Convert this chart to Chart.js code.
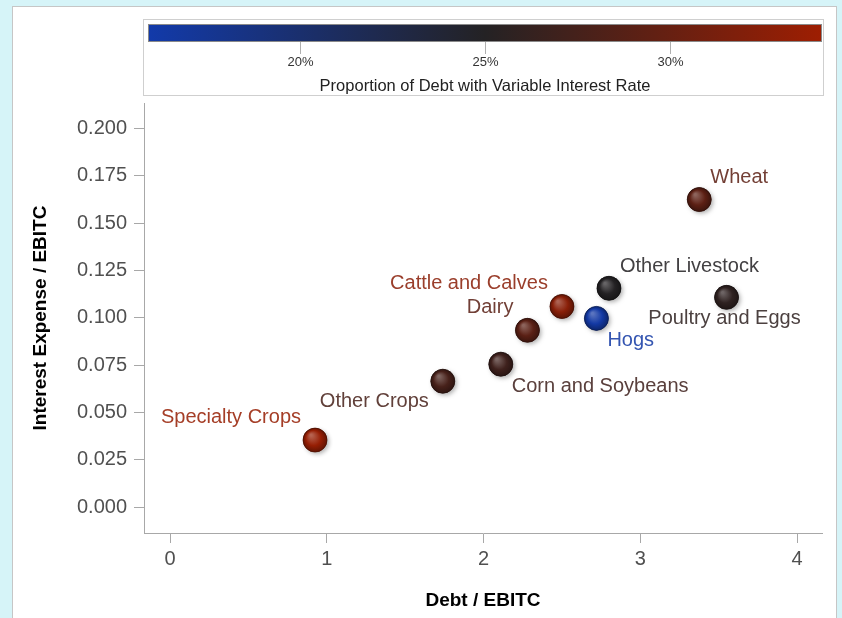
<!DOCTYPE html>
<html><head><meta charset="utf-8">
<script src="https://cdn.jsdelivr.net/npm/chart.js@4/dist/chart.umd.min.js"></script>
<style>
html,body{margin:0;padding:0;background:#d6f4f8;overflow:hidden;}
#wrap{position:relative;width:842px;height:618px;}
</style></head><body>
<div id="wrap"><canvas id="c" width="842" height="618"></canvas></div>
<script>
// ---- data ----
const categories = ["Specialty Crops","Other Crops","Corn and Soybeans","Dairy","Cattle and Calves","Hogs","Other Livestock","Poultry and Eggs","Wheat"];
const debtToEbitc = [0.925, 1.74, 2.11, 2.28, 2.50, 2.72, 2.80, 3.55, 3.376];
const interestToEbitc = [0.0354, 0.0665, 0.0755, 0.0934, 0.106, 0.0997, 0.1156, 0.1108, 0.1625];
const variableRateShare = [33.5, 27.6, 27.0, 29.0, 32.5, 16.3, 25.0, 25.8, 29.2];
const labelAnchors = ["NW","SW","SE","NW","NW","SE","NE","S","NE"];
const xTicks = [0,1,2,3,4];
const yTicks = [0,0.025,0.05,0.075,0.1,0.125,0.15,0.175,0.2];
const colorTicks = [20,25,30];
const colorRange = [15.9, 34.1];
const colorTitle = "Proportion of Debt with Variable Interest Rate";
const xTitle = "Debt / EBITC";
const yTitle = "Interest Expense / EBITC";

// ---- colour ramp ----
const rampStops = [[0,[18,58,170]],[0.5,[36,34,36]],[1,[158,30,2]]];
function rampRGB(v){
  let t=(v-colorRange[0])/(colorRange[1]-colorRange[0]);
  t=Math.max(0,Math.min(1,t));
  for(let i=0;i<rampStops.length-1;i++){
    const [t0,c0]=rampStops[i],[t1,c1]=rampStops[i+1];
    if(t<=t1){const f=(t-t0)/(t1-t0);return c0.map((c,k)=>Math.round(c+(c1[k]-c)*f));}
  }
  return rampStops[rampStops.length-1][1];
}
const css=(c,a)=>a===undefined?`rgb(${c[0]},${c[1]},${c[2]})`:`rgba(${c[0]},${c[1]},${c[2]},${a})`;
const mix=(c,d,f)=>c.map((v,k)=>Math.round(v+(d[k]-v)*f));

const FONT="'Liberation Sans', Arial, sans-serif";

const panelPlugin={id:'panel',beforeDraw(chart){
  const ctx=chart.ctx;ctx.save();
  ctx.fillStyle='#ffffff';ctx.fillRect(12.5,6.5,824,620);
  ctx.strokeStyle='#c6c6c6';ctx.lineWidth=1;ctx.strokeRect(12.5,6.5,824,620);
  ctx.restore();
}};

const colorbarPlugin={id:'colorbar',afterDraw(chart){
  const ctx=chart.ctx, a=chart.chartArea;
  const x0=a.left+4,x1=a.right,y0=24,y1=42;
  ctx.save();
  ctx.strokeStyle='#cfcfcf';ctx.lineWidth=1;ctx.strokeRect(143.5,19.5,680,76);
  const g=ctx.createLinearGradient(x0,0,x1,0);
  rampStops.forEach(([t,c])=>g.addColorStop(t,css(c)));
  ctx.fillStyle=g;ctx.fillRect(x0,y0,x1-x0,y1-y0);
  ctx.strokeStyle='#8a8a8a';ctx.strokeRect(x0+0.5,y0+0.5,x1-x0-1,y1-y0-1);
  const px=v=>x0+(v-colorRange[0])/(colorRange[1]-colorRange[0])*(x1-x0);
  ctx.strokeStyle='#b0b0b0';
  ctx.fillStyle='#333';ctx.font=`13px ${FONT}`;ctx.textAlign='center';ctx.textBaseline='middle';
  colorTicks.forEach(v=>{const x=Math.round(px(v))+0.5;
    ctx.beginPath();ctx.moveTo(x,y1);ctx.lineTo(x,y1+12);ctx.stroke();
    ctx.fillText(v+'%',x,62);});
  ctx.font=`16.5px ${FONT}`;ctx.fillStyle='#222';
  ctx.fillText(colorTitle,(x0+x1)/2,86);
  ctx.restore();
}};

const bubblePlugin={id:'bubbles',afterDatasetsDraw(chart){
  const ctx=chart.ctx, meta=chart.getDatasetMeta(0), R=12;
  ctx.save();
  meta.data.forEach((el,i)=>{
    const c=rampRGB(variableRateShare[i]);const x=el.x,y=el.y;
    ctx.save();
    ctx.shadowColor='rgba(0,0,0,0.3)';ctx.shadowBlur=4;ctx.shadowOffsetX=2;ctx.shadowOffsetY=2;
    ctx.beginPath();ctx.arc(x,y,R,0,Math.PI*2);ctx.fillStyle=css(mix(c,[0,0,0],0.3));ctx.fill();
    ctx.restore();
    const g=ctx.createRadialGradient(x-4,y-5,1,x,y,R);
    g.addColorStop(0,css(mix(c,[255,255,255],0.3)));
    g.addColorStop(0.6,css(c));
    g.addColorStop(1,css(mix(c,[0,0,0],0.35)));
    ctx.beginPath();ctx.arc(x,y,R,0,Math.PI*2);ctx.fillStyle=g;ctx.fill();
    ctx.lineWidth=1;ctx.strokeStyle=css(mix(c,[0,0,0],0.5),0.7);ctx.stroke();
  });
  ctx.font=`20px ${FONT}`;ctx.textBaseline='middle';
  meta.data.forEach((el,i)=>{
    const c=rampRGB(variableRateShare[i]);
    ctx.fillStyle=css(mix(c,[255,255,255],0.14));
    const a=labelAnchors[i];let dx=0,dy=0;
    if(a==='NE'){ctx.textAlign='left';dx=11;dy=-22;}
    else if(a==='SE'){ctx.textAlign='left';dx=11;dy=22;}
    else if(a==='NW'){ctx.textAlign='right';dx=-14;dy=-23;}
    else if(a==='SW'){ctx.textAlign='right';dx=-14;dy=20;}
    else {ctx.textAlign='center';dx=-2;dy=21;}
    ctx.fillText(categories[i],el.x+dx,el.y+dy);
  });
  ctx.restore();
}};

new Chart(document.getElementById('c'),{
  type:'scatter',
  data:{datasets:[{data:debtToEbitc.map((x,i)=>({x,y:interestToEbitc[i]})),
    pointRadius:12,backgroundColor:'rgba(0,0,0,0)',borderWidth:0,pointHoverRadius:12}]},
  options:{
    responsive:false,animation:false,devicePixelRatio:1,
    layout:{padding:{left:20,right:20,top:103,bottom:0}},
    plugins:{legend:{display:false},tooltip:{enabled:false}},
    scales:{
      x:{type:'linear',min:-0.166,max:4.159,
        afterBuildTicks:s=>{s.ticks=xTicks.map(v=>({value:v}));},
        afterFit:s=>{s.height=85;},
        grid:{drawOnChartArea:false,drawTicks:true,tickLength:10,tickColor:'#a8a8a8'},
        border:{color:'#a8a8a8'},
        ticks:{font:{family:FONT,size:20},color:'#505050',padding:4,callback:v=>String(v)},
        title:{display:true,text:xTitle,font:{family:FONT,size:19,weight:'bold'},color:'#000',padding:{top:0,bottom:6}}},
      y:{type:'linear',min:-0.0137,max:0.2135,
        afterBuildTicks:s=>{s.ticks=yTicks.map(v=>({value:v}));},
        afterFit:s=>{s.width=124;},
        grid:{drawOnChartArea:false,drawTicks:true,tickLength:10,tickColor:'#a8a8a8'},
        border:{color:'#a8a8a8'},
        ticks:{font:{family:FONT,size:20},color:'#505050',padding:7,callback:v=>v.toFixed(3)},
        title:{display:true,text:yTitle,font:{family:FONT,size:19,weight:'bold'},color:'#000',padding:{top:9,bottom:0}}}
    }
  },
  plugins:[panelPlugin,colorbarPlugin,bubblePlugin]
});
</script></body></html>
